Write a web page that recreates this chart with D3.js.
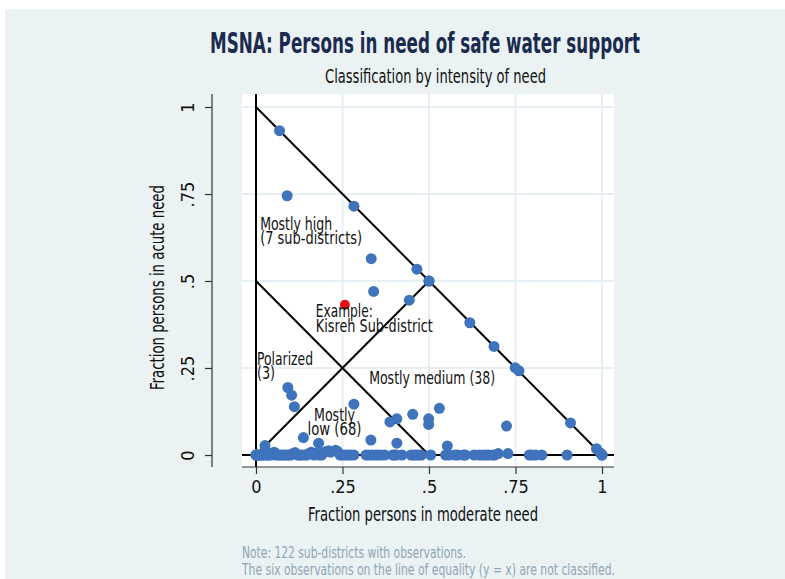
<!DOCTYPE html>
<html>
<head>
<meta charset="utf-8">
<script src="https://cdn.jsdelivr.net/npm/d3@7"></script>
<style>
  body { margin: 0; background: #fff; }
  text { font-family: "Liberation Sans Narrow", "DejaVu Sans Condensed", "Arial Narrow", sans-serif; }
</style>
</head>
<body>
<svg id="chart" width="785" height="579"></svg>
<script>
// sub-districts as [fraction moderate need, fraction acute need]
var mostlyHigh = [[0.068, 0.932], [0.090, 0.745], [0.283, 0.715], [0.333, 0.564],
  [0.465, 0.534], [0.340, 0.470]];
var exampleDistrict = [0.257, 0.432];   // Kisreh, also "mostly high"
var onEquality = [[0.500, 0.500], [0.500, 0.500], [0.443, 0.445], [0.026, 0.027],
  [0.000, 0.000], [0.000, 0.000]];
var polarized = [[0.092, 0.194], [0.103, 0.172], [0.111, 0.139]];
var mostlyMedium = [[0.618, 0.380], [0.688, 0.312], [0.749, 0.251], [0.760, 0.242],
  [0.530, 0.134], [0.453, 0.117], [0.499, 0.104], [0.499, 0.088], [0.407, 0.104],
  [0.724, 0.083], [0.909, 0.092], [0.553, 0.026], [0.984, 0.018],
  [0.505, 0], [0.548, 0], [0.558, 0], [0.575, 0], [0.583, 0], [0.600, 0], [0.605, 0],
  [0.630, 0], [0.645, 0], [0.655, 0], [0.665, 0], [0.672, 0], [0.685, 0], [0.690, 0],
  [0.700, 0.004], [0.728, 0.004], [0.790, 0], [0.797, 0], [0.808, 0], [0.826, 0],
  [0.899, 0], [0.995, 0.006], [1.000, 0], [1.000, 0]];
var mostlyLow = [[0.283, 0.146], [0.387, 0.095], [0.137, 0.050], [0.181, 0.034],
  [0.332, 0.043], [0.407, 0.034],
  [0.003, 0], [0.006, 0], [0.010, 0], [0.014, 0], [0.018, 0], [0.022, 0], [0.028, 0],
  [0.033, 0], [0.038, 0], [0.043, 0], [0.048, 0.006], [0.053, 0.008], [0.058, 0],
  [0.064, 0], [0.070, 0], [0.076, 0], [0.082, 0], [0.088, 0], [0.095, 0], [0.100, 0],
  [0.107, 0.004], [0.113, 0.007], [0.120, 0], [0.126, 0], [0.132, 0], [0.140, 0],
  [0.147, 0], [0.153, 0.004], [0.160, 0.008], [0.168, 0], [0.175, 0.006], [0.182, 0],
  [0.190, 0], [0.197, 0.008], [0.203, 0.010], [0.210, 0.012], [0.216, 0.008],
  [0.230, 0.014], [0.236, 0.010], [0.243, 0], [0.251, 0], [0.259, 0], [0.266, 0],
  [0.274, 0], [0.283, 0], [0.318, 0], [0.326, 0], [0.335, 0], [0.345, 0], [0.352, 0],
  [0.362, 0], [0.372, 0], [0.395, 0], [0.400, 0], [0.405, 0], [0.422, 0], [0.448, 0],
  [0.455, 0], [0.462, 0], [0.470, 0], [0.478, 0]];

var tickValues = [0, 0.25, 0.5, 0.75, 1];
var tickLabels = ["0", ".25", ".5", ".75", "1"];

// class boundaries: x+y=1, x+y=.5, y=x
var boundaries = [[[0, 1], [1, 0]], [[0, 0.5], [0.5, 0]], [[0, 0], [0.5, 0.5]]];

var regionLabels = [
  { text: "Mostly high", at: [0.012, 0.647], anchor: "start" },
  { text: "(7 sub-districts)", at: [0.012, 0.606], anchor: "start" },
  { text: "Example:", at: [0.173, 0.397], anchor: "start" },
  { text: "Kisreh Sub-district", at: [0.173, 0.353], anchor: "start" },
  { text: "Polarized", at: [0.003, 0.259], anchor: "start" },
  { text: "(3)", at: [0.003, 0.218], anchor: "start" },
  { text: "Mostly medium (38)", at: [0.327, 0.204], anchor: "start" },
  { text: "Mostly", at: [0.227, 0.098], anchor: "middle" },
  { text: "low (68)", at: [0.227, 0.057], anchor: "middle" }
];
var labelWidths = { "Mostly high": 72, "(7 sub-districts)": 102, "Example:": 57,
  "Kisreh Sub-district": 117, "Polarized": 56, "(3)": 18, "Mostly medium (38)": 126,
  "Mostly": 41, "low (68)": 54 };

var svg = d3.select("#chart");
var plot = { left: 242, right: 614, top: 94, bottom: 467 };

var x = d3.scaleLinear().domain([0, 1]).range([256, 602]);
var y = d3.scaleLinear().domain([0, 1]).range([455, 107]);

svg.append("rect").attr("x", 5).attr("y", 9).attr("width", 780).attr("height", 570)
  .attr("fill", "#eaf2f3");
svg.append("rect").attr("x", plot.left).attr("y", plot.top)
  .attr("width", plot.right - plot.left).attr("height", plot.bottom - plot.top)
  .attr("fill", "#fff");

// grid
svg.append("g").selectAll("line.v").data(tickValues).enter().append("line")
  .attr("x1", d => x(d)).attr("x2", d => x(d))
  .attr("y1", plot.top).attr("y2", plot.bottom)
  .attr("stroke", "#e6eff3").attr("stroke-width", 2);
svg.append("g").selectAll("line.h").data(tickValues).enter().append("line")
  .attr("y1", d => y(d)).attr("y2", d => y(d))
  .attr("x1", plot.left).attr("x2", plot.right)
  .attr("stroke", "#e6eff3").attr("stroke-width", 2);

// x=0 and y=0 reference lines
svg.append("line").attr("x1", x(0)).attr("x2", x(0)).attr("y1", plot.top).attr("y2", plot.bottom)
  .attr("stroke", "#000").attr("stroke-width", 2);
svg.append("line").attr("y1", y(0)).attr("y2", y(0)).attr("x1", plot.left).attr("x2", plot.right)
  .attr("stroke", "#000").attr("stroke-width", 2);

var line = d3.line().x(d => x(d[0])).y(d => y(d[1]));
svg.append("g").selectAll("path").data(boundaries).enter().append("path")
  .attr("d", line).attr("fill", "none").attr("stroke", "#000").attr("stroke-width", 2);

// axes
var xAxis = svg.append("g").attr("transform", "translate(0," + plot.bottom + ")")
  .call(d3.axisBottom(x).tickValues(tickValues).tickSize(7).tickFormat((d, i) => tickLabels[i]));
xAxis.select(".domain").remove();
xAxis.selectAll("line").attr("stroke", "#333").attr("stroke-width", 1.2);
xAxis.selectAll("text").attr("y", 26).attr("dy", 0).attr("font-size", 18).attr("fill", "#111")
  .style("font-family", null);
xAxis.append("line").attr("x1", plot.left).attr("x2", plot.right)
  .attr("stroke", "#333").attr("stroke-width", 1.2);

var yAxis = svg.append("g").attr("transform", "translate(212,0)")
  .call(d3.axisLeft(y).tickValues(tickValues).tickSize(7).tickFormat((d, i) => tickLabels[i]));
yAxis.select(".domain").remove();
yAxis.selectAll("line").attr("stroke", "#333").attr("stroke-width", 1.2);
yAxis.selectAll("text").attr("x", 0).attr("dy", 0).attr("text-anchor", "middle")
  .attr("transform", "translate(-18,0) rotate(-90)")
  .attr("font-size", 18).attr("fill", "#111");
yAxis.append("line").attr("y1", plot.top).attr("y2", plot.bottom)
  .attr("stroke", "#333").attr("stroke-width", 1.2);
svg.selectAll(".tick text").style("font-family", null);
svg.selectAll(".tick").each(function () { d3.select(this.parentNode).attr("font-family", null); });

// points
var allPoints = mostlyHigh.concat(onEquality, polarized, mostlyMedium, mostlyLow);
svg.append("g").selectAll("circle").data(allPoints).enter().append("circle")
  .attr("cx", d => x(d[0])).attr("cy", d => y(d[1])).attr("r", 5.5)
  .attr("fill", "#3f74bc");
svg.append("circle").attr("cx", x(exampleDistrict[0])).attr("cy", y(exampleDistrict[1]))
  .attr("r", 5).attr("fill", "#e8110f");

// region labels
svg.append("g").selectAll("text").data(regionLabels).enter().append("text")
  .attr("x", d => x(d.at[0])).attr("y", d => y(d.at[1]))
  .attr("text-anchor", d => d.anchor)
  .attr("textLength", d => labelWidths[d.text]).attr("lengthAdjust", "spacingAndGlyphs")
  .attr("font-size", 17).attr("fill", "#111")
  .text(d => d.text);

// titles
function addText(t, px, py, size, width, opts) {
  opts = opts || {};
  return svg.append("text").attr("x", px).attr("y", py)
    .attr("text-anchor", opts.anchor || "middle")
    .attr("font-size", size).attr("font-weight", opts.weight || "normal")
    .attr("fill", opts.fill || "#111")
    .attr("textLength", width).attr("lengthAdjust", "spacingAndGlyphs")
    .attr("transform", opts.transform || null)
    .text(t);
}
addText("MSNA: Persons in need of safe water support", 425, 53, 28, 430,
  { weight: "bold", fill: "#1b2b4f" });
addText("Classification by intensity of need", 435.5, 83, 20, 221);
addText("Fraction persons in moderate need", 423, 521, 20, 230);
svg.append("text").attr("transform", "translate(164,287.5) rotate(-90)")
  .attr("text-anchor", "middle").attr("font-size", 20).attr("fill", "#111")
  .attr("textLength", 205).attr("lengthAdjust", "spacingAndGlyphs")
  .text("Fraction persons in acute need");
addText("Note: 122 sub-districts with observations.", 242, 558, 15, 224,
  { anchor: "start", fill: "#8ea6b6" });
addText("The six observations on the line of equality (y = x) are not classified.", 242, 575, 15, 373,
  { anchor: "start", fill: "#8ea6b6" });
</script>
</body>
</html>
